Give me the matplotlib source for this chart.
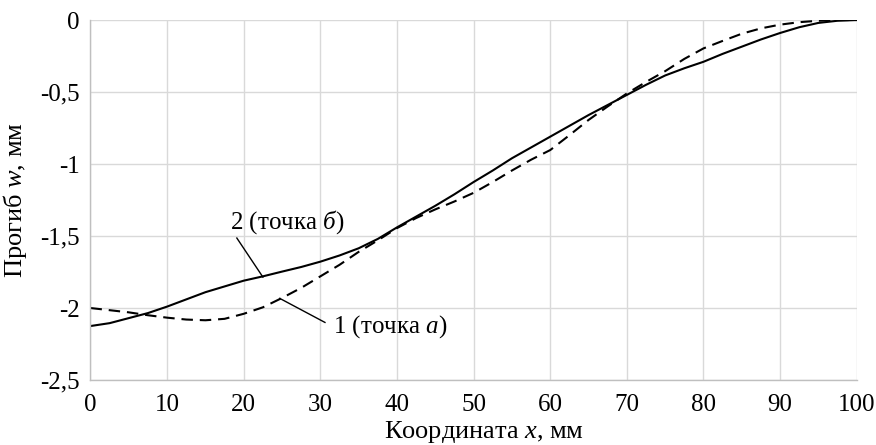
import matplotlib
matplotlib.use('Agg')
import matplotlib.pyplot as plt

# Data (x in mm, deflection w in mm)
x = [0, 2.5, 5, 7.5, 10, 12.5, 15, 17.5, 20, 22.5, 25, 27.5, 30, 32.5, 35, 37.5, 40,
     42.5, 45, 47.5, 50, 52.5, 55, 57.5, 60, 62.5, 65, 67.5, 70, 72.5, 75, 77.5, 80,
     82.5, 85, 87.5, 90, 92.5, 95, 97.5, 100]
# 1 (point a), dashed
w_point_a = [-2.00, -2.015, -2.03, -2.05, -2.067, -2.08, -2.085, -2.075, -2.04, -1.995,
             -1.93, -1.86, -1.78, -1.70, -1.61, -1.53, -1.445, -1.375, -1.315, -1.26,
             -1.2, -1.125, -1.045, -0.97, -0.903, -0.80, -0.694, -0.60, -0.51, -0.43,
             -0.355, -0.27, -0.197, -0.145, -0.095, -0.058, -0.032, -0.015, -0.005, 0.0, 0.0]
# 2 (point b), solid
w_point_b = [-2.125, -2.105, -2.07, -2.035, -1.99, -1.94, -1.89, -1.85, -1.81, -1.78,
             -1.747, -1.715, -1.678, -1.635, -1.585, -1.52, -1.44, -1.365, -1.29, -1.21,
             -1.125, -1.045, -0.96, -0.885, -0.81, -0.735, -0.66, -0.59, -0.52, -0.45,
             -0.385, -0.335, -0.29, -0.235, -0.185, -0.135, -0.09, -0.05, -0.02, -0.005, 0.0]

x_ticks = [0, 10, 20, 30, 40, 50, 60, 70, 80, 90, 100]
y_ticks = [-2.5, -2.0, -1.5, -1.0, -0.5, 0.0]
y_tick_labels = ['-2,5', '-2', '-1,5', '-1', '-0,5', '0']

plt.rcParams['font.family'] = ['Liberation Serif', 'DejaVu Serif']
plt.rcParams['mathtext.fontset'] = 'custom'
plt.rcParams['mathtext.it'] = 'Liberation Serif:italic'
plt.rcParams['mathtext.rm'] = 'Liberation Serif'

fig = plt.figure(figsize=(8.76, 4.45), dpi=100)
ax = fig.add_axes([0.1033, 0.146, 0.8747, 0.809])

# Curves
ax.plot(x, w_point_a, color='black', lw=1.5, dashes=(5.5, 3.3))
ax.plot(x, w_point_b, color='black', lw=1.5)

# Labels with leader lines
ax.plot([19.1, 22.5], [-1.514, -1.785], color='black', lw=1.0)
ax.text(18.2, -1.40, '2 (точка $\\mathit{б}$)', fontsize=18, ha='left', va='center')
ax.plot([24.7, 30.6], [-1.933, -2.10], color='black', lw=1.0)
ax.text(31.7, -2.13, '1 (точка $\\mathit{a}$)', fontsize=18, ha='left', va='center')

ax.set_xlim(0, 100)
ax.set_ylim(-2.5, 0)
ax.set_xticks(x_ticks)
ax.set_yticks(y_ticks)
ax.set_yticklabels(y_tick_labels)
ax.tick_params(length=0, labelsize=18)
ax.tick_params(axis='x', pad=10)
ax.tick_params(axis='y', pad=8)

ax.grid(True, color='#d9d9d9', lw=1.0)
ax.set_axisbelow(True)
for side in ['top', 'right']:
    ax.spines[side].set_visible(False)
for side in ['left', 'bottom']:
    ax.spines[side].set_color('#bfbfbf')
    ax.spines[side].set_linewidth(1.0)

ax.set_xlabel('Координата $\\mathit{x}$, мм', fontsize=19)
ax.xaxis.set_label_coords(0.513, -0.108)
ax.set_ylabel('Прогиб $\\mathit{w}$, мм', fontsize=19)
ax.yaxis.set_label_coords(-0.08, 0.5)

plt.savefig('out.png', dpi=100)
